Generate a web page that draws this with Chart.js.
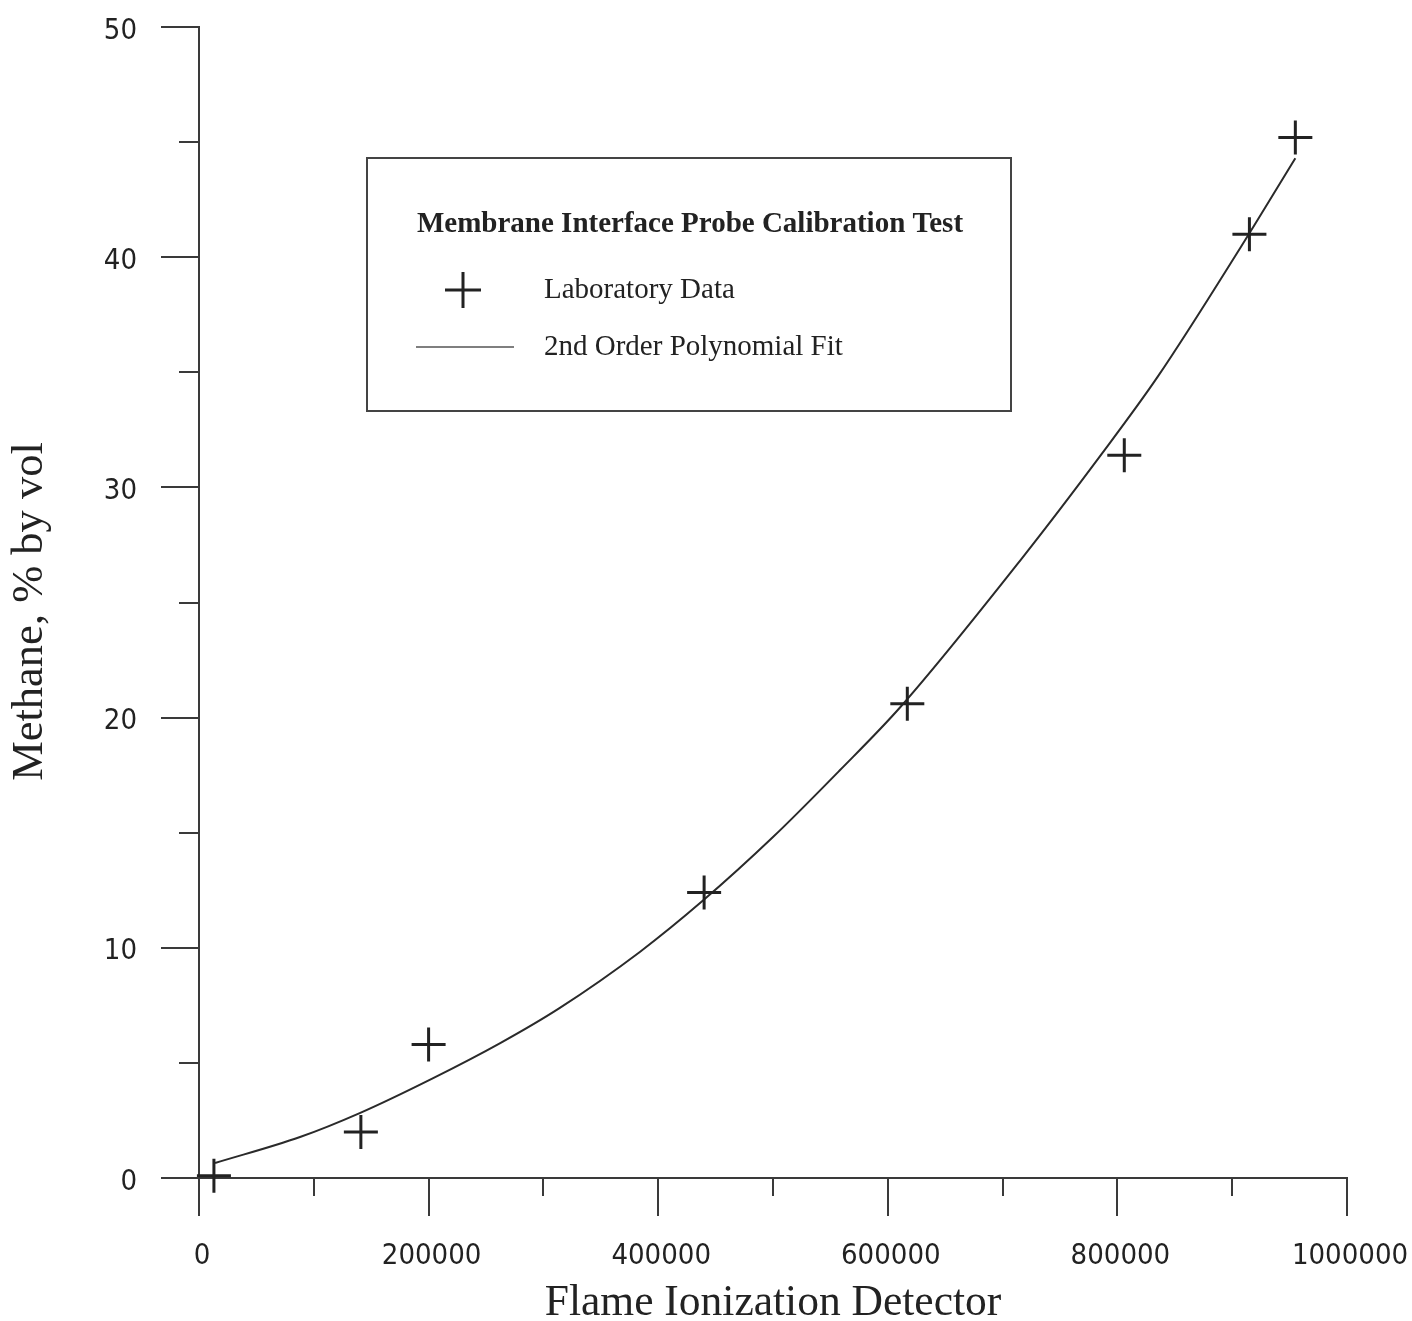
<!DOCTYPE html>
<html>
<head>
<meta charset="utf-8">
<script src="https://cdn.jsdelivr.net/npm/chart.js@4.4.1/dist/chart.umd.min.js"></script>
<style>
  html, body { margin: 0; padding: 0; background: #ffffff; }
  #wrap { width: 1412px; height: 1321px; position: relative; }
</style>
</head>
<body>
<div id="wrap"><canvas id="chart" width="1412" height="1321"></canvas></div>
<script>
// Laboratory calibration readings: FID response vs methane concentration
const labFid     = [13000, 141000, 200000, 440000, 617000, 806000, 915000, 955000];
const labMethane = [0.1, 2.0, 5.8, 12.4, 20.6, 31.4, 41.0, 45.2];

// Second-order polynomial fit curve, sampled along the FID range
const fitFid     = [14000, 88000, 140000, 204000, 262000, 314000, 384000, 439000, 500000, 558000, 611000, 717000, 787000, 835000, 907000, 955000];
const fitMethane = [0.65, 1.78, 2.82, 4.34, 5.85, 7.38, 9.82, 12.05, 14.81, 17.7, 20.46, 26.93, 31.5, 34.8, 40.4, 44.3];

// Axis tick labels
const xTickValues = [0, 200000, 400000, 600000, 800000, 1000000];
const xTickLabels = ['0', '200000', '400000', '600000', '800000', '1000000'];
const yTickValues = [0, 10, 20, 30, 40, 50];
const yTickLabels = ['0', '10', '20', '30', '40', '50'];

// Text
const legendTitle = 'Membrane Interface Probe Calibration Test';
const seriesNames = ['Laboratory Data', '2nd Order Polynomial Fit'];
const xTitle = 'Flame Ionization Detector';
const yTitle = 'Methane, % by vol';

const INK = '#222222';
const AXIS = '#3a3a3a';
const SERIF = '"Liberation Serif", "Times New Roman", serif';
const NARROW = '"Liberation Sans Narrow", "DejaVu Sans Condensed", sans-serif';

// Major and minor tick marks drawn outside the plot frame
const tickMarks = {
  id: 'tickMarks',
  afterDraw(chart) {
    const { ctx, chartArea: a, scales: { x, y } } = chart;
    ctx.save();
    ctx.strokeStyle = AXIS;
    ctx.lineWidth = 2;
    ctx.beginPath();
    for (let v = y.min; v <= y.max; v += 5) {
      const py = Math.round(y.getPixelForValue(v));
      const len = v % 10 === 0 ? 38 : 20;
      ctx.moveTo(a.left - len, py);
      ctx.lineTo(a.left, py);
    }
    for (let v = x.min; v <= x.max; v += 100000) {
      const px = Math.round(x.getPixelForValue(v));
      const len = v % 200000 === 0 ? 38 : 18;
      ctx.moveTo(px, a.bottom);
      ctx.lineTo(px, a.bottom + len);
    }
    ctx.stroke();
    ctx.restore();
  }
};

// Rotated y-axis title, sitting a little below the plot's mid-height
const yAxisTitle = {
  id: 'yAxisTitle',
  afterDraw(chart) {
    const { ctx, chartArea: a } = chart;
    ctx.save();
    ctx.translate(30, (a.top + a.bottom) / 2 + 9);
    ctx.rotate(-Math.PI / 2);
    ctx.fillStyle = INK;
    ctx.font = '44.5px ' + SERIF;
    ctx.textAlign = 'center';
    ctx.textBaseline = 'middle';
    ctx.fillText(yTitle, 0, 0);
    ctx.restore();
  }
};

// Boxed legend with a bold heading inside the plot
const boxedLegend = {
  id: 'boxedLegend',
  afterDraw(chart) {
    const { ctx, chartArea: a } = chart;
    const ds = chart.data.datasets;
    const left = a.left + 168, top = a.top + 131, w = 644, h = 253;
    ctx.save();
    ctx.fillStyle = '#ffffff';
    ctx.fillRect(left, top, w, h);
    ctx.strokeStyle = '#444444';
    ctx.lineWidth = 2;
    ctx.strokeRect(left, top, w, h);

    ctx.fillStyle = INK;
    ctx.textBaseline = 'middle';
    ctx.textAlign = 'center';
    ctx.font = 'bold 29px ' + SERIF;
    ctx.fillText(legendTitle, left + w / 2 + 1, top + 67);

    ctx.textAlign = 'left';
    ctx.font = '29px ' + SERIF;
    // marker sample
    const mx = left + 96, my = top + 132;
    ctx.strokeStyle = ds[0].borderColor;
    ctx.lineWidth = ds[0].borderWidth;
    ctx.beginPath();
    ctx.moveTo(mx - 18, my); ctx.lineTo(mx + 18, my);
    ctx.moveTo(mx, my - 18); ctx.lineTo(mx, my + 18);
    ctx.stroke();
    ctx.fillText(ds[0].label, left + 177, my);
    // line sample
    const ly = top + 189;
    ctx.strokeStyle = '#555555';
    ctx.lineWidth = 1.5;
    ctx.beginPath();
    ctx.moveTo(left + 49, ly); ctx.lineTo(left + 147, ly);
    ctx.stroke();
    ctx.fillText(ds[1].label, left + 177, ly);
    ctx.restore();
  }
};

Chart.defaults.color = INK;

// Invisible built-in tick marks only reserve the gap between axis and labels
const hiddenTicks = len => ({
  display: true,
  drawOnChartArea: false,
  drawTicks: true,
  tickLength: len,
  tickColor: 'rgba(0,0,0,0)',
  color: 'rgba(0,0,0,0)'
});

new Chart(document.getElementById('chart'), {
  type: 'scatter',
  data: {
    datasets: [
      {
        label: seriesNames[0],
        data: labFid.map((v, i) => ({ x: v, y: labMethane[i] })),
        pointStyle: 'cross',
        pointRadius: 17,
        pointHoverRadius: 17,
        borderColor: INK,
        borderWidth: 3,
        backgroundColor: INK,
        clip: false,
        order: 0
      },
      {
        label: seriesNames[1],
        data: fitFid.map((v, i) => ({ x: v, y: fitMethane[i] })),
        showLine: true,
        pointRadius: 0,
        borderColor: '#2a2a2a',
        borderWidth: 2,
        cubicInterpolationMode: 'monotone',
        clip: false,
        order: 1
      }
    ]
  },
  options: {
    responsive: false,
    animation: false,
    devicePixelRatio: 1,
    layout: { padding: { left: 0, top: 27, right: 65, bottom: 0 } },
    plugins: {
      legend: { display: false },
      tooltip: { enabled: false }
    },
    scales: {
      x: {
        type: 'linear',
        min: 0,
        max: 1000000,
        afterBuildTicks: s => { s.ticks = xTickValues.map(v => ({ value: v })); },
        afterFit: s => { s.height = 143; },
        grid: hiddenTicks(61),
        border: { display: true, color: AXIS, width: 2 },
        ticks: {
          maxRotation: 0,
          autoSkip: false,
          padding: 0,
          labelOffset: 3,
          color: INK,
          font: { family: NARROW, size: 29, lineHeight: 1.2 },
          callback: v => { const i = xTickValues.indexOf(v); return i < 0 ? '' : xTickLabels[i]; }
        },
        title: {
          display: true,
          text: xTitle,
          color: INK,
          padding: { top: 0, bottom: 0 },
          font: { family: SERIF, size: 43.5, lineHeight: 0.8 }
        }
      },
      y: {
        type: 'linear',
        min: 0,
        max: 50,
        afterBuildTicks: s => { s.ticks = yTickValues.map(v => ({ value: v })); },
        afterFit: s => { s.width = 199; },
        grid: hiddenTicks(62),
        border: { display: true, color: AXIS, width: 2 },
        ticks: {
          padding: 0,
          labelOffset: 4,
          color: INK,
          font: { family: NARROW, size: 29, lineHeight: 1.2 },
          callback: v => { const i = yTickValues.indexOf(v); return i < 0 ? '' : yTickLabels[i]; }
        },
        title: { display: false }
      }
    }
  },
  plugins: [tickMarks, yAxisTitle, boxedLegend]
});
</script>
</body>
</html>
